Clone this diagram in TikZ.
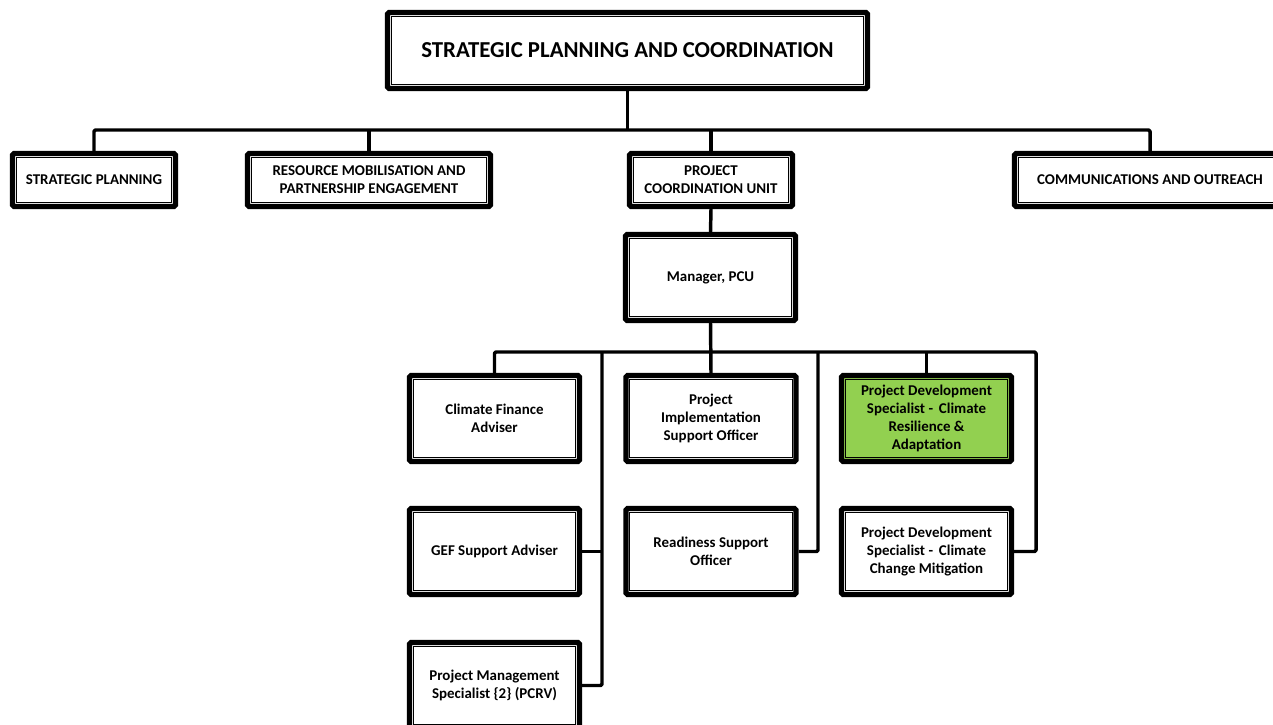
\documentclass[tikz,border=0pt]{standalone}
\usepackage{fontspec}
\setmainfont{Carlito}
\usepackage{xcolor}
\usepackage{tikz}
\definecolor{leafgreen}{RGB}{146,208,80}

\begin{document}
\begin{tikzpicture}
		[x=0.75pt,y=-0.75pt,
		unit/.style={draw,line width=3.9pt,rounded corners=1.2pt,fill=white,align=center,inner sep=2pt,
			font=\bfseries\fontsize{11.2}{13.3}\selectfont,
			path picture={\draw[line width=0.7pt,sharp corners]
				([shift={(2.75pt,2.75pt)}]path picture bounding box.south west) rectangle
				([shift={(-2.75pt,-2.75pt)}]path picture bounding box.north east);}},
		head/.style={unit,minimum width=360pt,minimum height=57pt,font=\bfseries\fontsize{17.1}{20}\selectfont},
		dept/.style={unit,minimum height=39.75pt},
		post/.style={unit,minimum width=127.5pt,minimum height=64.5pt},
		link/.style={line width=2.6pt,rounded corners=1pt,line join=round}]
		\useasboundingbox (0,0) rectangle (1273,724);
		\clip (0,0) rectangle (1273,724);
		\node[head] (spc) at (627.5,50.5) {STRATEGIC PLANNING AND COORDINATION};
		\node[dept,minimum width=122.25pt] (sp) at (94,180) {STRATEGIC PLANNING};
		\node[dept,minimum width=182.25pt] (rm) at (369,180) {RESOURCE MOBILISATION AND\\PARTNERSHIP ENGAGEMENT};
		\node[dept,minimum width=122.25pt] (pcu) at (711,180) {PROJECT\\COORDINATION UNIT};
		\node[dept,minimum width=203.25pt] (co) at (1150,180) {COMMUNICATIONS AND OUTREACH};
		\node[post] (mgr) at (710.5,277.5) {Manager, PCU};
		\node[post] (cfa) at (494.5,418.5) {Climate Finance\\Adviser};
		\node[post] (piso) at (711,418.5) {Project\\Implementation\\Support Officer};
		\node[post,fill=leafgreen] (pdsr) at (926.5,418.5) {Project Development\\Specialist - \,Climate\\Resilience \&\\Adaptation};
		\node[post] (gef) at (494.5,551.5) {GEF Support Adviser};
		\node[post] (rso) at (711,551.5) {Readiness Support\\Officer};
		\node[post] (pdsm) at (926.5,551.5) {Project Development\\Specialist - \,Climate\\Change Mitigation};
		\node[post] (pms) at (494.5,685.5) {Project Management\\Specialist \{2\} (PCRV)};
		\coordinate (bus) at (0,130);
		\coordinate (lspine) at (602,352);
		\coordinate (mspine) at (818,352);
		\coordinate (rspine) at (1036,352);
		\draw[link] (spc.south) -- (spc.south |- bus);
		\draw[link] (sp.north) |- (co.north |- bus) -- (co.north);
		\draw[link] (rm.north) -- (rm.north |- bus);
		\draw[link] (pcu.north) -- (pcu.north |- bus);
		\draw[link] (pcu.south) -- (mgr.north);
		\draw[link] (mgr.south) -- (piso.north);
		\draw[link] (cfa.north) |- (rspine) |- (pdsm.east);
		\draw[link] (lspine) |- (pms.east);
		\draw[link] (gef.east) -- (gef.east -| lspine);
		\draw[link] (mspine) |- (rso.east);
		\draw[link] (pdsr.north) -- (pdsr.north |- rspine);
	\end{tikzpicture}
\end{document}
